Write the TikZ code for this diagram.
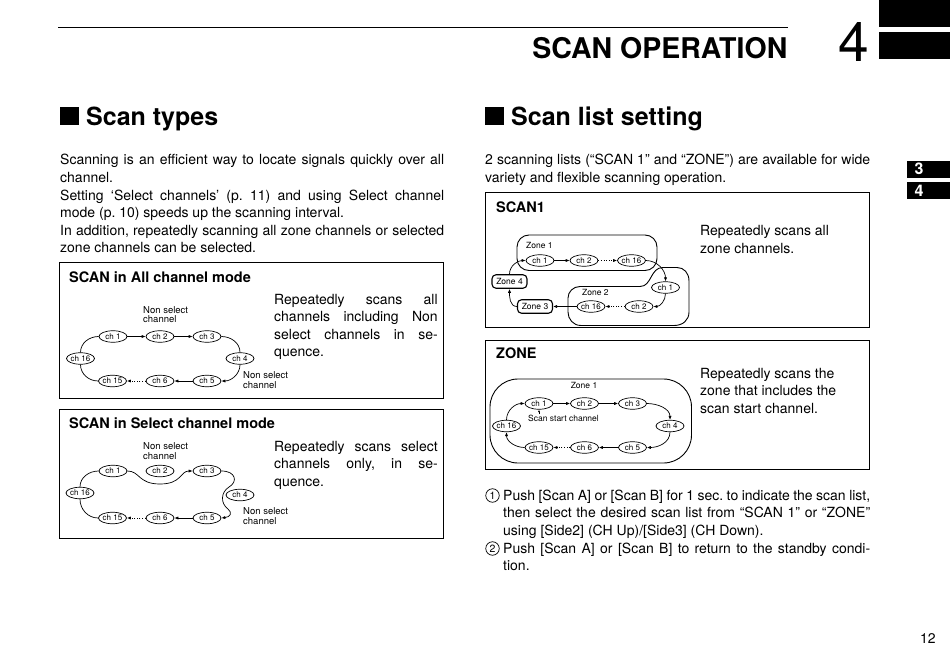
\documentclass[tikz,border=0pt]{standalone}
\usepackage{fontspec}
\setmainfont{TeX Gyre Heros}
\usetikzlibrary{shapes.geometric,arrows.meta}
\frenchspacing
\newcommand{\jfy}[2]{\makebox[#1bp][s]{#2}}
\newcommand{\plines}[4]{\parbox[t]{#1bp}{\fontsize{#2bp}{#3bp}\selectfont #4}}
\tikzset{
  ch/.style={ellipse, draw, line width=0.7bp, inner sep=0pt, minimum width=28bp, minimum height=11.5bp, font=\fontsize{8bp}{9bp}\selectfont},
  zn/.style={rectangle, rounded corners=4bp, draw, line width=1.1bp, inner sep=0pt, minimum width=35bp, minimum height=13.5bp, font=\fontsize{8.5bp}{10bp}\selectfont},
  arr/.style={line width=0.7bp, -{Latex[length=4bp,width=3.2bp]}},
  ln/.style={line width=0.7bp},
  dotl/.style={line width=0.8bp, dash pattern=on 1bp off 1.6bp},
  boxframe/.style={draw, line width=0.8bp},
  txt/.style={inner sep=0pt, anchor=base west},
  body/.style={font=\fontsize{14bp}{17.5bp}\selectfont},
  btitle/.style={font=\fontsize{14.5bp}{17bp}\selectfont\bfseries},
  small/.style={font=\fontsize{8.5bp}{9.5bp}\selectfont},
  tabnum/.style={text=white, font=\fontsize{16bp}{17bp}\selectfont\bfseries},
  hd/.style={font=\fontsize{25bp}{28bp}\selectfont\bfseries},
  circ/.style={circle, draw, line width=0.7bp, inner sep=0pt, minimum size=13.5bp, font=\fontsize{10.5bp}{11bp}\selectfont},
}
\begin{document}
\begin{tikzpicture}[x=1bp,y=1bp]
\useasboundingbox (0,0) rectangle (950,-672);
% header
\draw[line width=1.4bp] (58,-27.5) -- (788,-27.5);
\fill (879,0) rectangle (950,-27);
\fill (879,-32.5) rectangle (950,-59.5);
\node[txt, anchor=base east, font=\fontsize{28.5bp}{30bp}\selectfont\bfseries] (ttl) at (787.5,-58.5) {SCAN OPERATION};
\node[txt, font=\fontsize{55bp}{60bp}\selectfont] (chap) at (838.5,-62) {4};
% side tabs
\fill (907,-161) rectangle (950,-177.5);
\node[txt, tabnum] (tab3) at (914.5,-175) {3};
\fill (907,-182) rectangle (950,-199);
\node[txt, tabnum] (tab4) at (914.5,-196) {4};
% headings
\fill (60,-107.5) rectangle (79,-125.5);
\node[txt, hd] (h1) at (86,-125.5) {Scan types};
\fill (485,-107.5) rectangle (504,-125.5);
\node[txt, hd] (h2) at (511,-125.5) {Scan list setting};
% paragraphs
\node[txt] (p1) at (60,-165) {\plines{384}{14}{17.5}{\jfy{384}{Scanning is an efficient way to locate signals quickly over all}\\channel.\\\jfy{384}{Setting ‘Select channels’ (p. 11) and using Select channel}\\mode (p. 10) speeds up the scanning interval.\\\jfy{384}{In addition, repeatedly scanning all zone channels or selected}\\zone channels can be selected.}};
\node[txt] (p2) at (485,-165) {\plines{385}{14}{17.5}{\jfy{385}{2 scanning lists (“SCAN 1” and “ZONE”) are available for wide}\\variety and flexible scanning operation.}};
% box 1
\draw[boxframe] (59.5,-262.5) rectangle (443.5,-398);
\node[txt, btitle] (t1) at (69,-282) {SCAN in All channel mode};
\node[txt] (x1) at (274,-304) {\plines{163.5}{14}{17.5}{\jfy{163.5}{Repeatedly scans all}\\\jfy{163.5}{channels including Non}\\\jfy{163.5}{select channels in se-}\\quence.}};
\node[ch] (a1) at (113,-336.5) {ch 1};
\node[ch] (a2) at (160,-336.5) {ch 2};
\node[ch] (a3) at (207,-336.5) {ch 3};
\node[ch] (a16) at (80.5,-358.5) {ch 16};
\node[ch] (a4) at (240,-358.5) {ch 4};
\node[ch] (a15) at (112.5,-381) {ch 15};
\node[ch] (a6) at (160,-381) {ch 6};
\node[ch] (a5) at (207,-381) {ch 5};
\node[txt] (nsa) at (143,-313) {\plines{60}{9.5}{9.5}{Non select\\channel}};
\node[txt] (nsb) at (243,-378.5) {\plines{60}{9.5}{9.5}{Non select\\channel}};
\draw[arr] (a1) -- (a2);
\draw[arr] (a2) -- (a3);
\draw[ln] (a3.east) to[out=0,in=90] (a4.north);
\draw[arr] (a4.south) to[out=-90,in=0] (a5.east);
\draw[arr] (a5) -- (a6);
\draw[arr,dotl] (a6) -- (a15);
\draw[ln] (a15.west) to[out=180,in=-90] (a16.south);
\draw[ln] (a16.north) to[out=90,in=180] (a1.west);
% box 2
\draw[boxframe] (59.5,-409) rectangle (443.5,-538.5);
\node[txt, btitle] (t2) at (69,-428) {SCAN in Select channel mode};
\node[txt] (x2) at (274,-451) {\plines{163.5}{14}{17.5}{\jfy{163.5}{Repeatedly scans select}\\\jfy{163.5}{channels only, in se-}\\quence.}};
\node[ch] (b1) at (113,-471) {ch 1};
\node[ch] (b2) at (160,-471) {ch 2};
\node[ch] (b3) at (207,-471) {ch 3};
\node[ch] (b16) at (80,-493) {ch 16};
\node[ch] (b4) at (240,-495) {ch 4};
\node[ch] (b15) at (112.5,-518) {ch 15};
\node[ch] (b6) at (160,-518) {ch 6};
\node[ch] (b5) at (207,-518) {ch 5};
\node[txt] (nsc) at (143,-449.5) {\plines{60}{9.5}{9.5}{Non select\\channel}};
\node[txt] (nsd) at (243,-514.5) {\plines{60}{9.5}{9.5}{Non select\\channel}};
\draw[arr] (b1.east) .. controls (140,-471) and (138,-484) .. (160,-484) .. controls (182,-484) and (180,-471) .. (b3.west);
\draw[arr] (b3.east) .. controls (236,-471) and (238,-482) .. (229,-487) .. controls (221,-492) and (220,-503) .. (228,-509) .. controls (233,-513) and (230,-517) .. (b5.east);
\draw[arr] (b5) -- (b6);
\draw[arr,dotl] (b6) -- (b15);
\draw[ln] (b15.west) to[out=180,in=-90] (b16.south);
\draw[ln] (b16.north) to[out=90,in=180] (b1.west);
% box 3
\draw[boxframe] (485.5,-192) rectangle (869.5,-327);
\node[txt, btitle] (t3) at (496,-212) {SCAN1};
\node[txt] (x3) at (700,-235.5) {\plines{165}{14}{17.5}{Repeatedly scans all\\zone channels.}};
\draw[ln, line width=0.9bp, rounded corners=12bp] (517,-235) rectangle (657,-270.5);
\node[txt, small] (zl1) at (526,-248) {Zone 1};
\node[ch] (c1) at (540,-260.5) {ch 1};
\node[ch] (c2) at (584,-260.5) {ch 2};
\node[ch] (c16) at (631.5,-260.5) {ch 16};
\draw[line width=0.9bp] (580,-286.5) -- (640,-286.5) .. controls (652,-286.5) and (650,-267.5) .. (663,-267.5) -- (677,-267.5) .. controls (684,-267.5) and (689,-273) .. (689,-281) -- (689,-312) .. controls (689,-320) and (683,-325.5) .. (674,-325.5) -- (581,-325.5) .. controls (573,-325.5) and (568,-319) .. (568,-312) -- (568,-298) .. controls (568,-292) and (573,-286.5) .. (580,-286.5) -- cycle;
\node[txt, small] (zl2) at (582,-295) {Zone 2};
\node[ch] (d1) at (665.5,-287.5) {ch 1};
\node[ch] (d2) at (639,-306.5) {ch 2};
\node[ch] (d16) at (591,-306.5) {ch 16};
\node[zn] (z4) at (509.5,-281.5) {Zone 4};
\node[zn] (z3) at (535,-306.5) {Zone 3};
\draw[arr] (c1) -- (c2);
\draw[arr,dotl] (c2) -- (c16);
\draw[arr] (c16.east) to[out=0,in=90] (d1.north);
\draw[arr] (d1.south) to[out=-90,in=0] (d2.east);
\draw[arr,dotl] (d2) -- (d16);
\draw[arr] (d16) -- (z3);
\draw[arr] (z3.west) to[out=180,in=-90] (z4.south);
\draw[arr] (z4.north) to[out=90,in=180] (c1.west);
% box 4
\draw[boxframe] (485.5,-340.5) rectangle (869.5,-469.5);
\node[txt, btitle] (t4) at (496,-358) {ZONE};
\node[txt] (x4) at (700,-378) {\plines{165}{14}{17.8}{Repeatedly scans the\\zone that includes the\\scan start channel.}};
\draw[ln, line width=0.9bp, rounded corners=28bp] (490,-379) rectangle (691.5,-463);
\node[txt, small, anchor=base] (zl3) at (584,-388.5) {Zone 1};
\node[ch] (e1) at (539,-403.5) {ch 1};
\node[ch] (e2) at (584.5,-403.5) {ch 2};
\node[ch] (e3) at (632.5,-403.5) {ch 3};
\node[ch] (e16) at (506.5,-426) {ch 16};
\node[ch] (e4) at (670,-426) {ch 4};
\node[ch] (e15) at (539,-447.5) {ch 15};
\node[ch] (e6) at (584.5,-447.5) {ch 6};
\node[ch] (e5) at (632.5,-447.5) {ch 5};
\node[txt, small] (ssc) at (528,-421) {Scan start channel};
\draw[line width=0.5bp, -{Latex[length=2.5bp,width=2bp]}] (ssc.north -| e1.south) -- (e1.south);
\draw[arr] (e1) -- (e2);
\draw[arr] (e2) -- (e3);
\draw[arr] (e3.east) to[out=0,in=90] (e4.north);
\draw[arr] (e4.south) to[out=-90,in=0] (e5.east);
\draw[arr] (e5) -- (e6);
\draw[arr,dotl] (e6) -- (e15);
\draw[arr] (e15.west) to[out=180,in=-90] (e16.south);
\draw[arr] (e16.north) to[out=90,in=180] (e1.west);
% steps
\node[circ] (n1) at (492.5,-495.5) {1};
\node[txt] (s1) at (503,-500) {\plines{367}{14}{17.5}{\jfy{367}{Push [Scan A] or [Scan B] for 1 sec. to indicate the scan list,}\\\jfy{367}{then select the desired scan list from “SCAN 1” or “ZONE”}\\using [Side2] (CH Up)/[Side3] (CH Down).}};
\node[circ] (n2) at (492.5,-548.5) {2};
\node[txt] (s2) at (503,-553) {\plines{367}{14}{17.5}{\jfy{367}{Push [Scan A] or [Scan B] to return to the standby condi-}\\tion.}};
% page number
\node[txt, body] (pg) at (920,-643) {12};
\end{tikzpicture}
\end{document}
